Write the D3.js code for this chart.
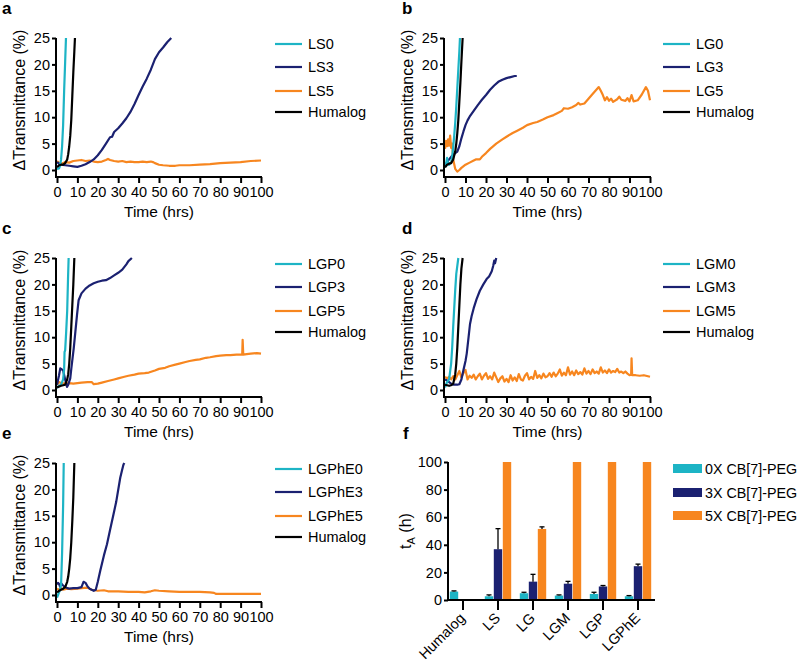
<!DOCTYPE html>
<html><head><meta charset="utf-8">
<script src="https://cdn.jsdelivr.net/npm/d3@7"></script>
<style>body{margin:0;background:#fff} text{font-family:"Liberation Sans",Arial,Helvetica,sans-serif;fill:#000}</style>
</head><body><svg id="chart" width="800" height="663"></svg>
<script>
// ---------- DATA (time in hrs, ΔTransmittance in %) ----------
const LS0 = [[0,0.2],[1,0.3],[1.5,0.8],[2,2],[2.5,4.5],[3,8.5],[3.5,15],[4,20.5],[4.4,25]];
const LS3 = [[0,1.5],[1,1.2],[2,1],[4,0.9],[6,0.8],[8,0.7],[10,0.6],[12,0.8],[14,1.1],[16,1.5],[18,2],[20,2.8],[22,3.8],[24,5],[26,6.2],[27,6.3],[28,7.2],[30,7.9],[32,8.8],[34,9.8],[36,11],[38,12.5],[40,14.2],[42,15.8],[44,17.3],[46,19],[48,21],[50,22.3],[52,23.2],[54,24.2],[56,25]];
const LS5 = [[0,1.7],[1,1.4],[2,1.2],[3,1.3],[4,1.5],[6,1.4],[8,1.7],[10,1.8],[12,1.9],[14,1.7],[16,1.8],[18,1.6],[20,1.5],[22,1.6],[24,1.9],[25,2.1],[26,1.9],[28,1.7],[30,1.6],[32,1.7],[34,1.5],[36,1.6],[38,1.5],[40,1.5],[42,1.6],[44,1.5],[46,1.6],[47,1.5],[48,1.3],[50,1.0],[52,0.9],[55,0.8],[58,0.8],[60,0.9],[65,0.9],[70,1.0],[75,1.1],[80,1.3],[85,1.4],[90,1.5],[95,1.7],[100,1.8]];
const humA = [[0,0.5],[1,0.9],[2,1],[3,1],[4,1.3],[5,2],[5.5,3],[6,4.5],[6.5,6.5],[7,9.5],[7.5,14],[8,18.5],[8.5,22.5],[8.8,25]];

const LG0 = [[0,0.5],[0.5,1],[1,2.3],[1.5,1.2],[2,1],[3,1.5],[3.5,2.5],[4,4.4],[4.5,6.5],[5,9],[5.5,12],[6,15.5],[6.5,19],[7,22.5],[7.3,25]];
const LG3 = [[0,0.8],[1,1.5],[2,2],[3,2.5],[4,2.9],[5,3.2],[6,3.5],[7,4.5],[8,6],[9,7.3],[10,8.5],[11,9.4],[12,10.1],[14,11.2],[16,12.3],[18,13.3],[20,14.2],[22,15.2],[24,16],[26,16.7],[28,17.1],[30,17.4],[32,17.6],[34,17.8],[35,17.8]];
const LG5 = [[0,4],[0.5,5.5],[1,4.5],[1.5,5.8],[2,4.6],[2.5,6.5],[3,4.2],[3.5,5],[4,2],[5,0.2],[6,-0.3],[7,0],[8,0.4],[10,1],[12,1.4],[14,1.8],[15,2],[17,2],[18,2.5],[20,3.2],[22,4],[25,5],[28,5.8],[30,6.3],[33,7],[35,7.4],[38,8],[40,8.5],[43,8.9],[45,9.1],[48,9.6],[50,10],[53,10.4],[55,10.8],[57,11.2],[58,11.7],[60,11.6],[62,11.9],[64,12.3],[65,12.7],[66,12.4],[68,12.6],[70,13.5],[72,14.4],[75,15.7],[76,15],[77,14.2],[78,13.2],[79,13.8],[80,13.1],[81,13.5],[82,12.9],[84,13.4],[85,13.9],[86,13.3],[88,13.1],[89,13.6],[90,13],[91,14.2],[92,13],[94,13.2],[96,14.3],[98,15.7],[99,15],[100,13.2]];
const humB = [[0,0.5],[1,1],[2,1.2],[3,1.3],[4,2],[5,3.5],[5.5,5],[6,7],[6.5,9.5],[7,13],[7.5,16.5],[8,20.5],[8.6,25]];

const LGP0 = [[0,0.4],[1,0.8],[2,1],[3,2],[3.5,4],[3.7,7.2],[4,7.5],[4.5,11],[5,15],[5.4,21],[5.7,25]];
const LGP3 = [[0,1],[1,2.8],[1.6,4.1],[2,4],[3,3.7],[4,2],[4.9,0.6],[5.5,1],[6.5,2.2],[7,4],[8.2,7.9],[9,11],[9.8,14.2],[10.6,17],[12,18.3],[14,19.2],[16,19.8],[18,20.2],[20,20.5],[22,20.7],[24,20.8],[26,21.2],[28,21.7],[30,22.2],[32,22.8],[34,23.8],[35,24.4],[36.7,25]];
const LGP5 = [[0,1],[1,1.5],[2,1.3],[4,1.2],[6,1.3],[8,1.2],[10,1.3],[12,1.4],[15,1.5],[17,1.5],[18,1.1],[20,1.2],[22,1.4],[25,1.7],[28,2],[30,2.2],[33,2.5],[35,2.7],[38,2.9],[40,3.1],[43,3.2],[45,3.3],[48,3.7],[50,4.0],[53,4.2],[55,4.5],[58,4.8],[60,5.0],[63,5.3],[65,5.5],[68,5.7],[70,5.8],[73,6.1],[75,6.2],[78,6.4],[80,6.5],[83,6.6],[85,6.6],[88,6.7],[90.8,6.7],[91,9.5],[91.3,6.7],[93,6.8],[95,6.9],[98,7],[100,6.9]];
const humC = [[0,0.5],[2,0.8],[4,1],[5,2],[5.5,3],[6,5],[6.5,8],[7,12],[7.5,16],[8,20],[8.5,25]];

const LGM0 = [[0,0.5],[1,1.5],[2,2],[3,5],[3.5,8],[4,12],[4.5,15.5],[5,19],[5.5,22],[6.5,25]];
const LGM3 = [[0,2],[1,1.8],[2,1.5],[3,1.2],[4,1],[5,1],[6,1],[7,1.1],[8,2],[9,3.8],[10,5.5],[10.6,6.9],[11.5,10],[12.2,12.5],[13,14],[14,15.5],[15.4,17.2],[17,18.8],[18.7,20],[20.3,21],[21.5,21.5],[22.8,22.5],[23.5,23.5],[24,24.5],[24.4,24],[25,25]];
const LGM5 = [[0,2.5],[1,2.2],[2,2.5],[3,2],[4,2.6],[5,2],[6,2.8],[7,3.6],[8,2.4],[9,3.2],[10,3.8],[11,2],[12,2.7],[13,2.3],[14,2.9],[15,2],[16,2.6],[17,3.1],[18,2],[19,2.7],[20,3.2],[21,2.1],[22,2.6],[23,2],[24,3.3],[25,2.4],[26,1.5],[27,2.2],[28,2.6],[29,1.6],[30,2.1],[31,1.5],[32,2.8],[33,1.8],[34,2.4],[35,1.7],[36,3],[37,2],[38,1.8],[39,2.7],[40,3.2],[41,2],[42,2.5],[43,2.1],[44,3.6],[45,2.3],[46,2.8],[47,2.2],[48,3.1],[49,2.4],[50,2.6],[51,3.2],[52,2.5],[53,3.3],[54,2.6],[55,3.1],[56,3.9],[57,2.7],[58,3.3],[59,2.8],[60,4.3],[61,2.9],[62,3.5],[63,2.8],[64,3.7],[65,3],[66,3.4],[67,2.9],[68,4.1],[69,3.1],[70,3.6],[71,3],[72,3.9],[73,3.2],[74,3.5],[75,3.1],[76,4.3],[77,3.3],[78,3.7],[79,3.2],[80,3.9],[81,3.3],[82,3.6],[83,3.4],[84,4],[85,3.3],[86,3.5],[87,3.2],[88,3.5],[89,3.1],[90,2.8],[90.8,2.9],[91,6],[91.3,2.8],[93,2.8],[95,2.7],[97,2.8],[99,2.6],[100,2.5]];
const humD = [[0,1],[1,0.9],[2,0.8],[3,0.9],[4,1.2],[5,3],[5.5,5],[6,8],[6.5,12],[7,16],[7.5,20],[8,23],[8.6,25]];

const LGPhE0 = [[0,-0.5],[0.5,0],[1,0.5],[1.5,1],[2,2],[2.5,8],[3,17],[3.3,25]];
const LGPhE3 = [[0,2],[0.5,2.3],[1,2.1],[1.5,1.6],[2,2.2],[3,1.8],[4,1.5],[5,1.3],[6,1.2],[8,1.3],[10,1.3],[12,1.5],[13,2.5],[14,2.3],[15,1.6],[16,1.2],[17,1],[18,0.8],[19,1],[20,2.5],[21.2,4.6],[23,7.5],[24.5,9.6],[26,12.3],[27.7,15.3],[29,17.6],[31,22.2],[32,23.8],[32.6,24.7],[33,25]];
const LGPhE5 = [[0,1.2],[1,1],[2,1.3],[3,1],[5,1.2],[7,1.1],[10,1.2],[12,1.3],[15,1.4],[17,1],[20,0.8],[23,0.9],[25,0.7],[30,0.7],[35,0.6],[40,0.6],[43,0.5],[46,0.7],[48,0.9],[50,0.8],[55,0.7],[60,0.6],[65,0.6],[70,0.6],[75,0.5],[77,0.4],[78,0.2],[80,0.2],[85,0.2],[90,0.2],[95,0.2],[100,0.2]];
const humE = [[0,0.5],[1,0.8],[2,1],[3,1.2],[4,1.5],[5,2.5],[5.5,3.5],[6,5],[6.5,7],[7,10],[7.5,14],[8,18.5],[8.5,25]];

const timeTicks = [0,10,20,30,40,50,60,70,80,90,100];
const transTicks = [0,5,10,15,20,25];

// bar chart (panel f)
const barCategories = ["Humalog","LS","LG","LGM","LGP","LGPhE"];
const barSeries = ["0X CB[7]-PEG","3X CB[7]-PEG","5X CB[7]-PEG"];
const tA0X = [6.1, 2.7, 4.9, 3.2, 4.4, 2.7];
const tA0Xerr = [0.5, 1.0, 0.7, 0.5, 1.2, 0.5];
const tA3X = [0, 36.8, 13.3, 11.8, 9.8, 24.5];
const tA3Xerr = [0, 14.9, 5.3, 1.7, 0.7, 1.5];
const tA5X = [0, 100, 51.5, 100, 100, 100];
const tA5Xerr = [0, 0, 1.5, 0, 0, 0];
const tATicks = [0,20,40,60,80,100];

// ---------- STYLE ----------
const C0 = "#1db4c5", C3 = "#1b2171", C5 = "#f7861f", CH = "#000000";
const svg = d3.select("#chart");
const FONT = '"Liberation Sans",Arial,Helvetica,sans-serif';

const panels = [
  {label:"a", names:["LS0","LS3","LS5","Humalog"], series:[LS0,LS3,LS5,humA], col:0, top:38},
  {label:"b", names:["LG0","LG3","LG5","Humalog"], series:[LG0,LG3,LG5,humB], col:1, top:38},
  {label:"c", names:["LGP0","LGP3","LGP5","Humalog"], series:[LGP0,LGP3,LGP5,humC], col:0, top:258},
  {label:"d", names:["LGM0","LGM3","LGM5","Humalog"], series:[LGM0,LGM3,LGM5,humD], col:1, top:258},
  {label:"e", names:["LGPhE0","LGPhE3","LGPhE5","Humalog"], series:[LGPhE0,LGPhE3,LGPhE5,humE], col:0, top:463}
];
const colors = [C0, C3, C5, CH];

panels.forEach(p => {
  const x0 = p.col === 0 ? 57 : 445, x1 = p.col === 0 ? 261 : 650;
  const yTop = p.top, yZero = p.top + 132, axisY = yZero + 7, axisX = x0 - 1;
  const x = d3.scaleLinear().domain([0,100]).range([x0,x1]);
  const y = d3.scaleLinear().domain([0,25]).range([yZero,yTop]);
  const g = svg.append("g");

  // panel letter
  svg.append("text").attr("x", p.col === 0 ? 2 : 402).attr("y", p.top - 24)
    .attr("font-size", 17).attr("font-weight", "bold").text(p.label);

  // lines
  const clipId = "clip" + p.label;
  svg.append("clipPath").attr("id", clipId).append("rect")
    .attr("x", x0 - 2).attr("y", yTop - 1).attr("width", x1 - x0 + 6).attr("height", axisY - yTop);
  const line = d3.line().x(d => x(d[0])).y(d => y(d[1]));
  const order = [2,1,0,3];
  order.forEach(i => {
    g.append("path").datum(p.series[i]).attr("d", line)
      .attr("fill","none").attr("stroke", colors[i]).attr("stroke-width", 2.2)
      .attr("stroke-linejoin","round").attr("clip-path", `url(#${clipId})`);
  });

  // y axis
  const ya = g.append("g").attr("transform", `translate(${axisX},0)`)
    .call(d3.axisLeft(y).tickValues(transTicks).tickSize(4).tickPadding(2));
  ya.select(".domain").remove();
  ya.append("line").attr("x1",0).attr("x2",0).attr("y1",yTop).attr("y2",axisY+1).attr("stroke","#000").attr("stroke-width",2);
  ya.selectAll(".tick line").attr("stroke-width",2);
  ya.selectAll(".tick text").attr("font-size",14.5).attr("font-family",FONT).attr("fill","#000");

  // x axis
  const xa = g.append("g").attr("transform", `translate(0,${axisY})`)
    .call(d3.axisBottom(x).tickValues(timeTicks).tickSize(6).tickPadding(4));
  xa.select(".domain").remove();
  xa.append("line").attr("x1",axisX-1).attr("x2",x1+1).attr("y1",0).attr("y2",0).attr("stroke","#000").attr("stroke-width",2);
  xa.selectAll(".tick line").attr("stroke-width",2);
  xa.selectAll(".tick text").attr("font-size",14.5).attr("font-family",FONT).attr("fill","#000");

  // titles
  g.append("text").attr("x",(x0+x1)/2).attr("y",axisY+40).attr("text-anchor","middle")
    .attr("font-size",15.5).text("Time (hrs)");
  g.append("text").attr("transform",`translate(${axisX-37},${(yTop+yZero)/2 - 4}) rotate(-90)`)
    .attr("text-anchor","middle").attr("dy","0.35em").attr("font-size",16).text("ΔTransmittance (%)");

  // legend
  const lx = p.col === 0 ? 275 : 663;
  const rows = [6, 29, 53, 74];
  p.names.forEach((n,i) => {
    const ly = yTop + rows[i];
    g.append("line").attr("x1",lx).attr("x2",lx+27).attr("y1",ly).attr("y2",ly)
      .attr("stroke",colors[i]).attr("stroke-width",2.2);
    g.append("text").attr("x",lx+33).attr("y",ly).attr("dy","0.36em").attr("font-size",14.5).text(n);
  });
});

// ---------- panel f: bar chart ----------
(function(){
  const g = svg.append("g");
  svg.append("text").attr("x",403).attr("y",439).attr("font-size",17).attr("font-weight","bold").text("f");
  const axisX = 448, yTop = 462, yZero = 600;
  const x = d3.scaleBand().domain(barCategories).range([445.5,655.5]).paddingInner(0).paddingOuter(0);
  const xs = d3.scaleBand().domain(barSeries).range([-13.5,13.5]);
  const y = d3.scaleLinear().domain([0,100]).range([yZero,yTop]);
  const vals = [tA0X, tA3X, tA5X], errs = [tA0Xerr, tA3Xerr, tA5Xerr], cols = [C0, C3, C5];

  barCategories.forEach((c,ci) => {
    barSeries.forEach((s,si) => {
      const v = vals[si][ci];
      if (!v) return;
      const cx = x(c) + x.bandwidth()/2 + xs(s);
      g.append("rect").attr("x", cx + 0.3).attr("y", y(v)).attr("width", xs.bandwidth() - 0.6)
        .attr("height", yZero - y(v)).attr("fill", cols[si]);
      const e = errs[si][ci];
      if (e > 0) {
        const mx = cx + xs.bandwidth()/2;
        g.append("line").attr("x1",mx).attr("x2",mx).attr("y1",y(v)).attr("y2",y(v+e)).attr("stroke","#000").attr("stroke-width",1.3);
        g.append("line").attr("x1",mx-2.5).attr("x2",mx+2.5).attr("y1",y(v+e)).attr("y2",y(v+e)).attr("stroke","#000").attr("stroke-width",1.3);
      }
    });
  });

  const ya = g.append("g").attr("transform",`translate(${axisX},0)`)
    .call(d3.axisLeft(y).tickValues(tATicks).tickSize(4).tickPadding(2));
  ya.select(".domain").remove();
  ya.append("line").attr("x1",0).attr("x2",0).attr("y1",yTop).attr("y2",yZero+1).attr("stroke","#000").attr("stroke-width",2);
  ya.selectAll(".tick line").attr("stroke-width",2);
  ya.selectAll(".tick text").attr("font-size",14.5).attr("font-family",FONT).attr("fill","#000");

  const xa = g.append("g").attr("transform",`translate(0,${yZero})`)
    .call(d3.axisBottom(x).tickSize(10).tickPadding(3));
  xa.select(".domain").remove();
  xa.append("line").attr("x1",axisX-1).attr("x2",655).attr("y1",0).attr("y2",0).attr("stroke","#000").attr("stroke-width",2);
  xa.selectAll(".tick line").attr("stroke-width",2);
  xa.selectAll(".tick text").attr("font-size",14.5).attr("font-family",FONT).attr("fill","#000")
    .attr("text-anchor","end").attr("dy",0).attr("y",0)
    .attr("transform","translate(3,19) rotate(-45)");

  // y title  t_A (h)
  const t = g.append("text").attr("transform",`translate(${axisX-43},${531}) rotate(-90)`)
    .attr("text-anchor","middle").attr("dy","0.35em").attr("font-size",16);
  t.append("tspan").text("t");
  t.append("tspan").attr("font-size",11).attr("dy","4").text("A");
  t.append("tspan").attr("dy","-4").text(" (h)");

  // legend
  const rowsY = [468.5, 492.5, 515.5];
  barSeries.forEach((s,i) => {
    g.append("rect").attr("x",673).attr("y",rowsY[i]-4.5).attr("width",29).attr("height",9).attr("fill",cols[i]);
    g.append("text").attr("x",705).attr("y",rowsY[i]).attr("dy","0.36em").attr("font-size",14.3).text(s);
  });
})();
</script></body></html>
